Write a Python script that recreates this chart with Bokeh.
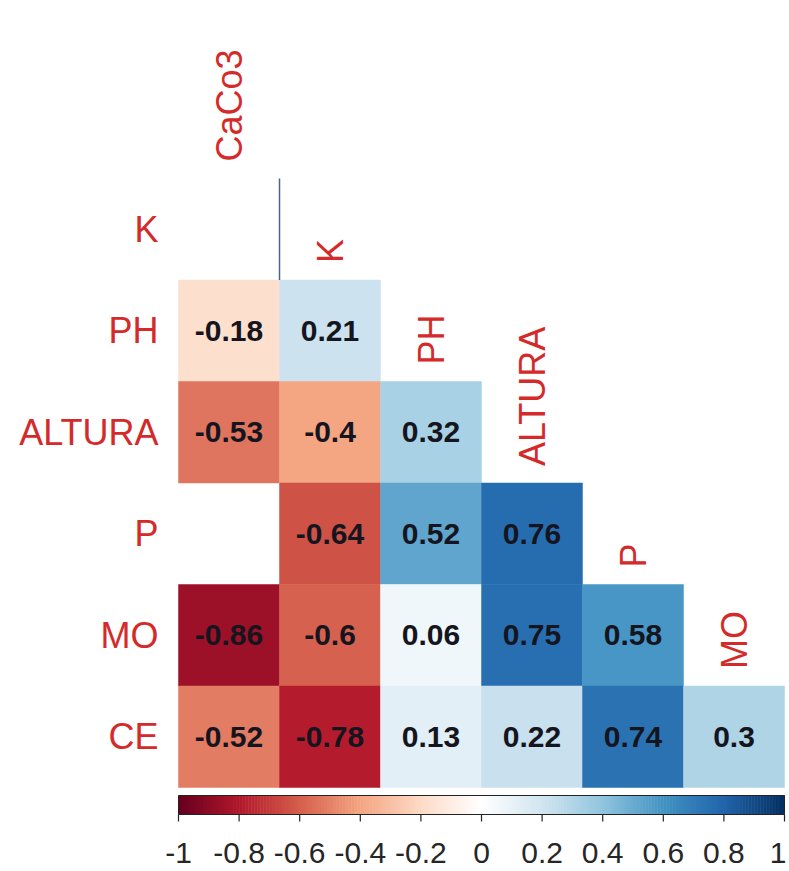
import numpy as np
from bokeh.plotting import figure
from bokeh.models import Range1d, ColumnDataSource, LinearColorMapper
from bokeh.transform import transform
from bokeh.core.properties import value
from bokeh.embed import file_html
from bokeh.resources import INLINE

# ---------------- data ----------------
rows = ["K", "PH", "ALTURA", "P", "MO", "CE"]
cols = ["CaCo3", "K", "PH", "ALTURA", "P", "MO"]
row_K = [None]
row_PH = [-0.18, 0.21]
row_ALTURA = [-0.53, -0.4, 0.32]
row_P = [None, -0.64, 0.52, 0.76]
row_MO = [-0.86, -0.6, 0.06, 0.75, 0.58]
row_CE = [-0.52, -0.78, 0.13, 0.22, 0.74, 0.3]
lower = [row_K, row_PH, row_ALTURA, row_P, row_MO, row_CE]
tick_values = [-1, -0.8, -0.6, -0.4, -0.2, 0, 0.2, 0.4, 0.6, 0.8, 1]
tick_labels = ["-1", "-0.8", "-0.6", "-0.4", "-0.2", "0", "0.2", "0.4", "0.6", "0.8", "1"]

# ---------------- style ----------------
base = ["#67001F", "#B2182B", "#D6604D", "#F4A582", "#FDDBC7", "#FFFFFF",
        "#D1E5F0", "#92C5DE", "#4393C3", "#2166AC", "#053061"]


def ramp(colors, n):
    rgb = np.array([[int(c[i:i + 2], 16) for i in (1, 3, 5)] for c in colors], float)
    pos = np.linspace(0, 1, len(colors))
    out = []
    for t in np.linspace(0, 1, n):
        r = np.interp(t, pos, rgb[:, 0]); g = np.interp(t, pos, rgb[:, 1]); b = np.interp(t, pos, rgb[:, 2])
        out.append("#%02x%02x%02x" % (int(round(r)), int(round(g)), int(round(b))))
    return out


palette = ramp(base, 200)
mapper = LinearColorMapper(palette=palette, low=-1, high=1)

FONT = value("Liberation Sans")
LABEL_RED = "#d42a2a"
W, H = 789, 871
SX, SY = 101.0, 101.5
OX, OY = 178, 178  # grid origin inside the figure (px)

p = figure(width=W, height=H, output_backend="svg", toolbar_location=None,
           x_range=Range1d(-OX / SX, (W - OX) / SX),
           y_range=Range1d((H - OY) / SY, -OY / SY),
           min_border=0, outline_line_color=None)
p.axis.visible = False
p.grid.visible = False
p.background_fill_color = "white"
p.border_fill_color = "white"

# cells
cx, cy, cv, ct = [], [], [], []
for r, vals in enumerate(lower):
    for c, v in enumerate(vals):
        if v is None:
            continue
        cx.append(c + 0.5); cy.append(r + 0.5); cv.append(v); ct.append(f"{v:g}")
src = ColumnDataSource(dict(x=cx, y=cy, v=cv, t=ct))
p.rect(x="x", y="y", width=1, height=1, source=src,
       fill_color=transform("v", mapper), line_color=transform("v", mapper), line_width=0.5)
p.text(x="x", y="y", text="t", source=src, text_font=FONT, text_font_style="bold",
       text_font_size="30px", text_align="center", text_baseline="middle", text_color="#151520")

# odd line in the blank K/CaCo3 cell
p.segment(x0=[1], y0=[0], x1=[1], y1=[1], line_color="#4a6688", line_width=1.5)

# row labels
p.text(x=[0] * len(rows), y=[r + 0.5 for r in range(len(rows))], text=rows, x_offset=-20,
       text_font=FONT, text_font_size="36px", text_align="right", text_baseline="middle",
       text_color=LABEL_RED)

# column labels (rotated)
p.text(x=[c + 0.5 for c in range(len(cols))], y=[c - 17 / SY for c in range(len(cols))],
       text=cols, angle=np.pi / 2, text_font=FONT, text_font_size="36px",
       text_align="left", text_baseline="middle", text_color=LABEL_RED)

# colour bar
ncb = len(palette)
edges = np.linspace(-1, 1, ncb + 1)
cb_top, cb_bot = (795 - 178) / SY, (814 - 178) / SY
p.quad(left=(edges[:-1] + 1) * 3, right=(edges[1:] + 1) * 3 + 0.005, top=cb_top, bottom=cb_bot,
       fill_color=palette, line_color=None)
p.quad(left=[0], right=[6], top=[cb_top], bottom=[cb_bot], fill_color=None,
       line_color="#222222", line_width=1)
tx = [(t + 1) * 3 for t in tick_values]
p.segment(x0=tx, y0=[cb_bot] * len(tx), x1=tx, y1=[cb_bot + 7 / SY] * len(tx),
          line_color="#222222", line_width=1.2)
ly = (852 - 178) / SY
p.text(x=tx[:-1], y=[ly] * (len(tx) - 1), text=tick_labels[:-1], text_font=FONT,
       text_font_size="30px", text_align="center", text_baseline="middle",
       text_color="#262626")
p.text(x=tx[-1:], y=[ly], text=tick_labels[-1:], x_offset=2, text_font=FONT,
       text_font_size="30px", text_align="right", text_baseline="middle",
       text_color="#262626")

open("out.html", "w").write(file_html(p, INLINE))
